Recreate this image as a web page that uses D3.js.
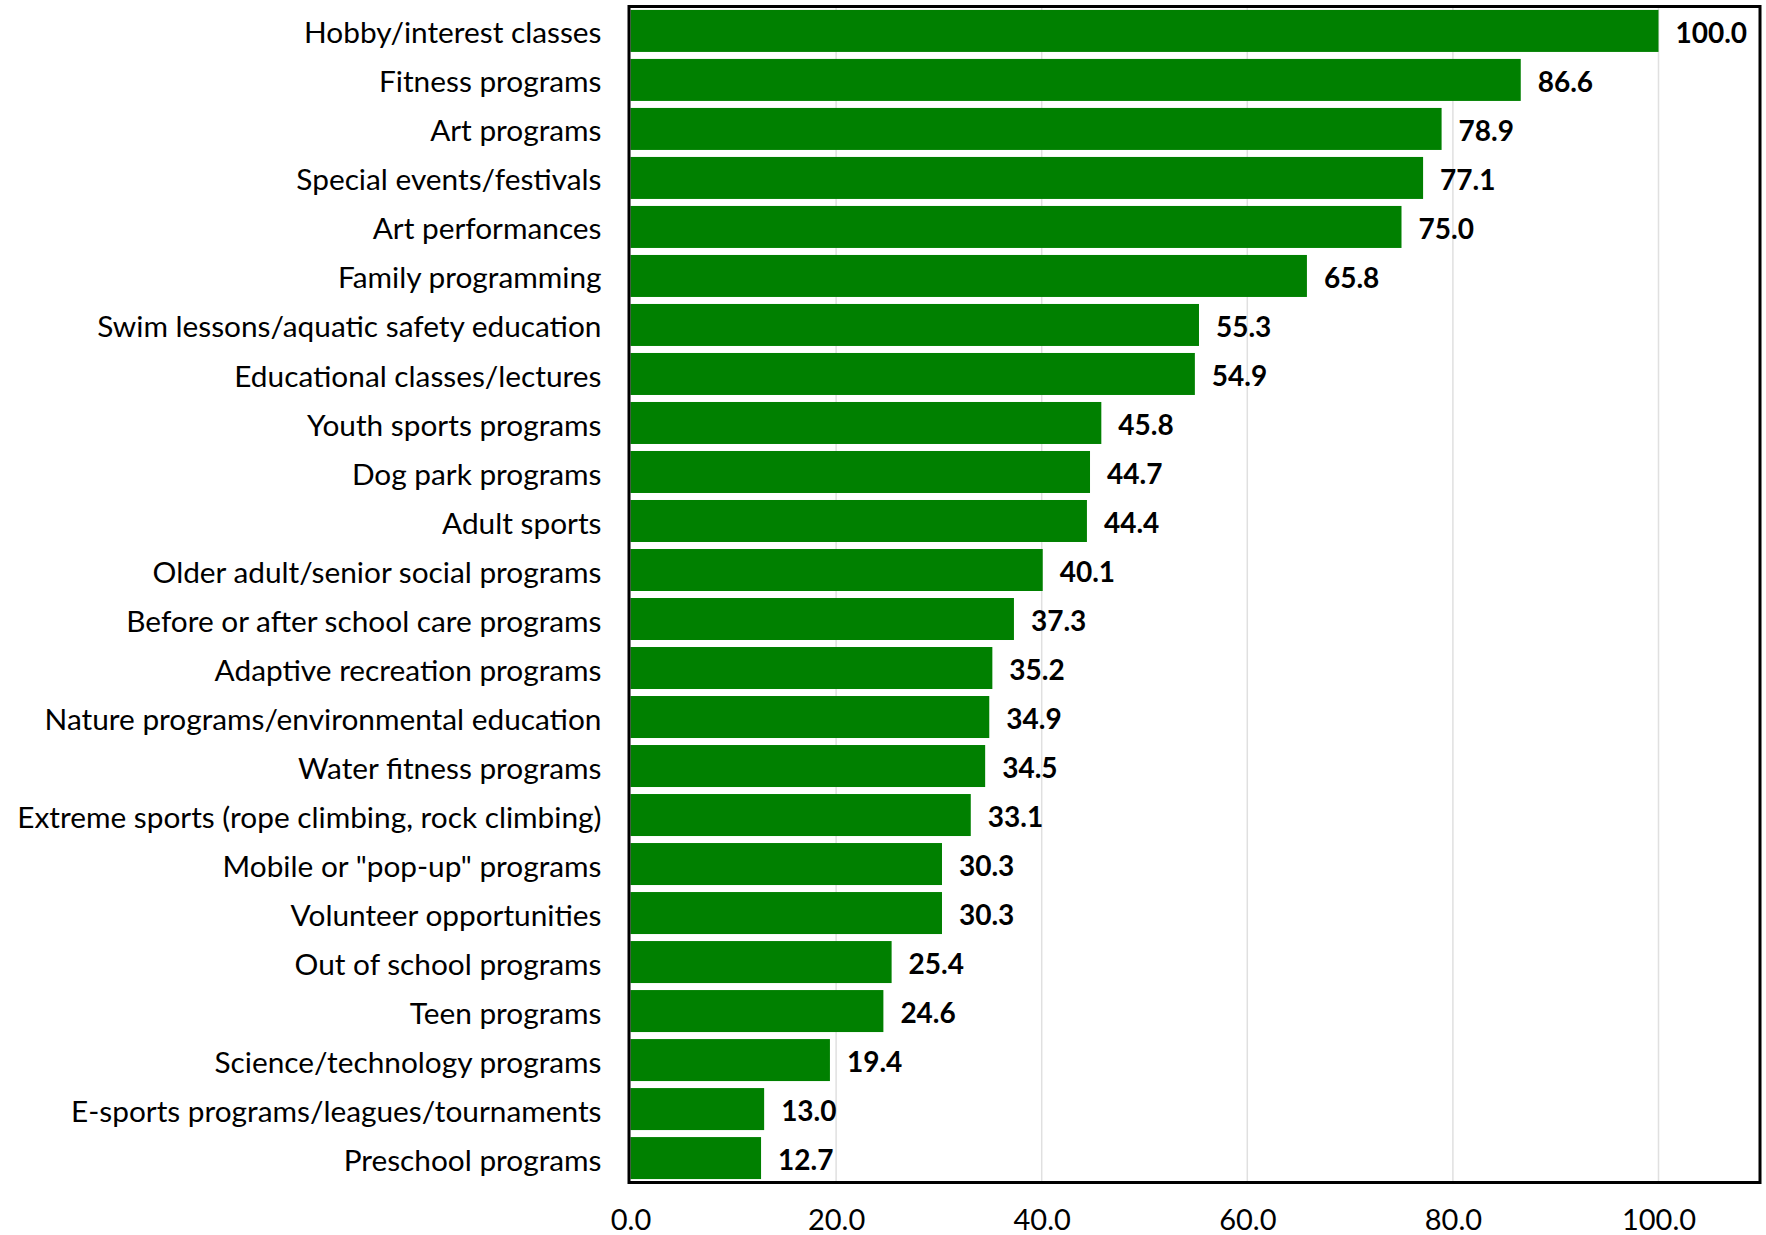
<!DOCTYPE html>
<html><head><meta charset="utf-8">
<script src="https://cdn.jsdelivr.net/npm/d3@7"></script>
<style>body{margin:0;background:#fff}</style>
</head><body>
<svg id="c" width="1766" height="1235"></svg>
<script>
const categories = ["Hobby/interest classes","Fitness programs","Art programs","Special events/festivals","Art performances","Family programming","Swim lessons/aquatic safety education","Educational classes/lectures","Youth sports programs","Dog park programs","Adult sports","Older adult/senior social programs","Before or after school care programs","Adaptive recreation programs","Nature programs/environmental education","Water fitness programs","Extreme sports (rope climbing, rock climbing)","Mobile or \"pop-up\" programs","Volunteer opportunities","Out of school programs","Teen programs","Science/technology programs","E-sports programs/leagues/tournaments","Preschool programs"];
const values = [100.0,86.6,78.9,77.1,75.0,65.8,55.3,54.9,45.8,44.7,44.4,40.1,37.3,35.2,34.9,34.5,33.1,30.3,30.3,25.4,24.6,19.4,13.0,12.7];
const tickValues = [0,20,40,60,80,100];

(function(){
const svg = d3.select("#c");
const pl = 630.5, pr = 1760, pt = 6.5, pb = 1182.5;
const x = d3.scaleLinear().domain([0,110]).range([pl, pl + 1028*1.1]);
const y = d3.scaleBand().domain(categories).range([pt, pb]).paddingInner(0.143).paddingOuter(0.07);
const font = "Lato, 'Open Sans', sans-serif";

svg.append("g").selectAll("line").data(tickValues.filter(d=>d>0)).join("line")
  .attr("x1", d=>x(d)).attr("x2", d=>x(d)).attr("y1", pt).attr("y2", pb)
  .attr("stroke", "#e0e0e0").attr("stroke-width", 1.5);

svg.append("g").selectAll("rect").data(values).join("rect")
  .attr("x", x(0)).attr("y", (d,i)=>y(categories[i]))
  .attr("width", d=>x(d)-x(0)).attr("height", y.bandwidth())
  .attr("fill", "#008000");

svg.append("g").selectAll("text").data(values).join("text")
  .attr("x", d=>x(d)+17).attr("y", (d,i)=>y(categories[i])+y.bandwidth()/2 + 2)
  .attr("dy", "0.35em").attr("font-family", font).attr("font-weight", "bold")
  .attr("font-size", 28).attr("fill", "#000").text(d=>d.toFixed(1));

const ya = svg.append("g").attr("transform", `translate(${pl},0)`)
  .call(d3.axisLeft(y).tickSize(0).tickPadding(29));
ya.select(".domain").remove();
ya.selectAll("text").attr("font-family", font).attr("font-size", 29.8).attr("fill", "#000").attr("dy", "0.42em");

const xa = svg.append("g").attr("transform", `translate(0,${pb})`)
  .call(d3.axisBottom(x).tickValues(tickValues).tickSize(0).tickPadding(27).tickFormat(d=>d.toFixed(1)));
xa.select(".domain").remove();
xa.selectAll("text").attr("font-family", font).attr("font-size", 29).attr("fill", "#000");

svg.append("rect").attr("x", 629).attr("y", pt).attr("width", pr-629).attr("height", pb-pt)
  .attr("fill", "none").attr("stroke", "#000").attr("stroke-width", 3);
})();
</script>
</body></html>
